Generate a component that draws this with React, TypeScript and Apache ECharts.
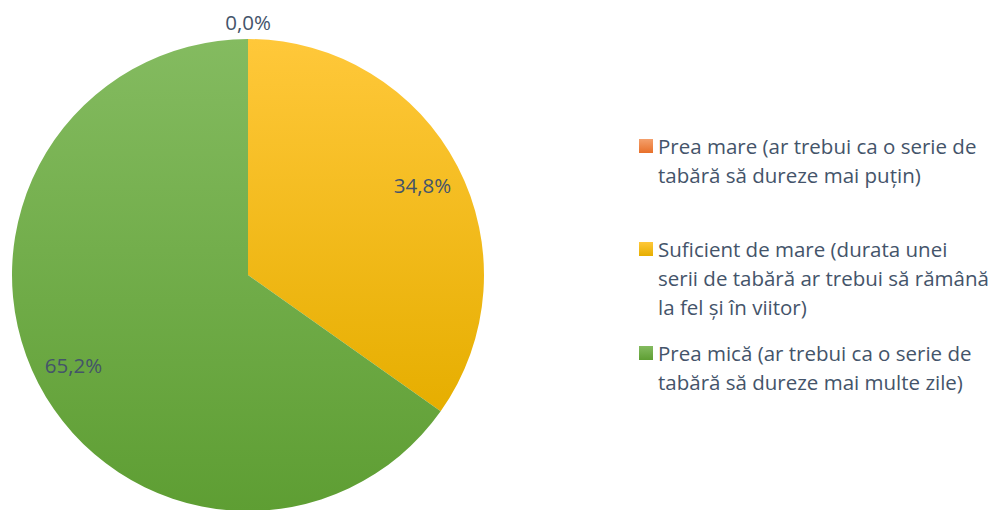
import React, { useEffect, useRef } from "react";
import * as echarts from "echarts";

const categories = [
  "Prea mare (ar trebui ca o serie de tabără să dureze mai puțin)",
  "Suficient de mare (durata unei serii de tabără ar trebui să rămână la fel și în viitor)",
  "Prea mică (ar trebui ca o serie de tabără să dureze mai multe zile)",
];
const legendLines = [
  ["Prea mare (ar trebui ca o serie de", "tabără să dureze mai puțin)"],
  ["Suficient de mare (durata unei", "serii de tabără ar trebui să rămână", "la fel și în viitor)"],
  ["Prea mică (ar trebui ca o serie de", "tabără să dureze mai multe zile)"],
];
const values = [0.0, 34.8, 65.2];
const gradients = [
  ["#F4A06C", "#E8702A"],
  ["#FFC83A", "#E6AE00"],
  ["#84BB60", "#5E9E33"],
];

const FONT = "'Open Sans', Lato, sans-serif";
const TEXT = "#44546A";
const CX = 248;
const CY = 275;
const R = 236;
const LH = 29;

export default function App() {
  const ref = useRef<HTMLDivElement>(null);
  useEffect(() => {
    if (!ref.current) return;
    const chart = echarts.init(ref.current, undefined, { renderer: "svg" });
    const grad = (c: string[]) =>
      new echarts.graphic.LinearGradient(0, 0, 0, 1, [
        { offset: 0, color: c[0] },
        { offset: 1, color: c[1] },
      ]);
    const fmt = (v: number) => v.toFixed(1).replace(".", ",") + "%";
    const iconCenters = [146, 249, 353];
    const legends = categories.map((name, i) => {
      const n = legendLines[i].length;
      const total = 2 * n - 1;
      const boxH = total * LH;
      const lines = new Array(n - 1).fill(" ").concat(legendLines[i]);
      return {
        data: [name],
        orient: "vertical",
        left: 639,
        top: iconCenters[i] - boxH / 2,
        padding: 0,
        icon: "rect",
        itemWidth: 14,
        itemHeight: 14,
        selectedMode: false,
        formatter: () => lines.join("\n"),
        textStyle: {
          fontFamily: FONT,
          fontSize: 20.5,
          color: TEXT,
          lineHeight: LH,
        },
      };
    });
    const labelStyle = {
      fontFamily: FONT,
      fontSize: 20.5,
      color: TEXT,
      formatter: (p: any) => fmt(p.value),
    };
    chart.setOption({
      animation: false,
      legend: legends,
      series: [
        {
          type: "pie",
          center: [CX, CY],
          radius: [0, R],
          startAngle: 90,
          clockwise: true,
          silent: true,
          label: { show: false },
          labelLine: { show: false },
          data: categories.map((name, i) => ({
            name,
            value: values[i],
            itemStyle: { color: grad(gradients[i]) },
          })),
        },
        {
          type: "pie",
          center: [CX, CY],
          radius: [R * 0.64, R],
          startAngle: 90,
          clockwise: true,
          silent: true,
          itemStyle: { color: "transparent" },
          label: { show: true, position: "inside", ...labelStyle },
          labelLine: { show: false },
          data: categories.map((name, i) => ({
            name,
            value: values[i],
            label: { show: values[i] !== 0 },
          })),
        },
        {
          type: "pie",
          center: [CX, CY],
          radius: [R + 1, R + 28],
          startAngle: 90,
          clockwise: true,
          silent: true,
          itemStyle: { color: "transparent" },
          label: { show: true, position: "inside", ...labelStyle },
          labelLine: { show: false },
          data: categories.map((name, i) => ({
            name,
            value: values[i],
            label: { show: values[i] === 0 },
          })),
        },
      ],
    });
    return () => chart.dispose();
  }, []);
  return (
    <div
      ref={ref}
      style={{ position: "fixed", left: 0, top: 0, width: 997, height: 510, background: "#fff" }}
    />
  );
}
